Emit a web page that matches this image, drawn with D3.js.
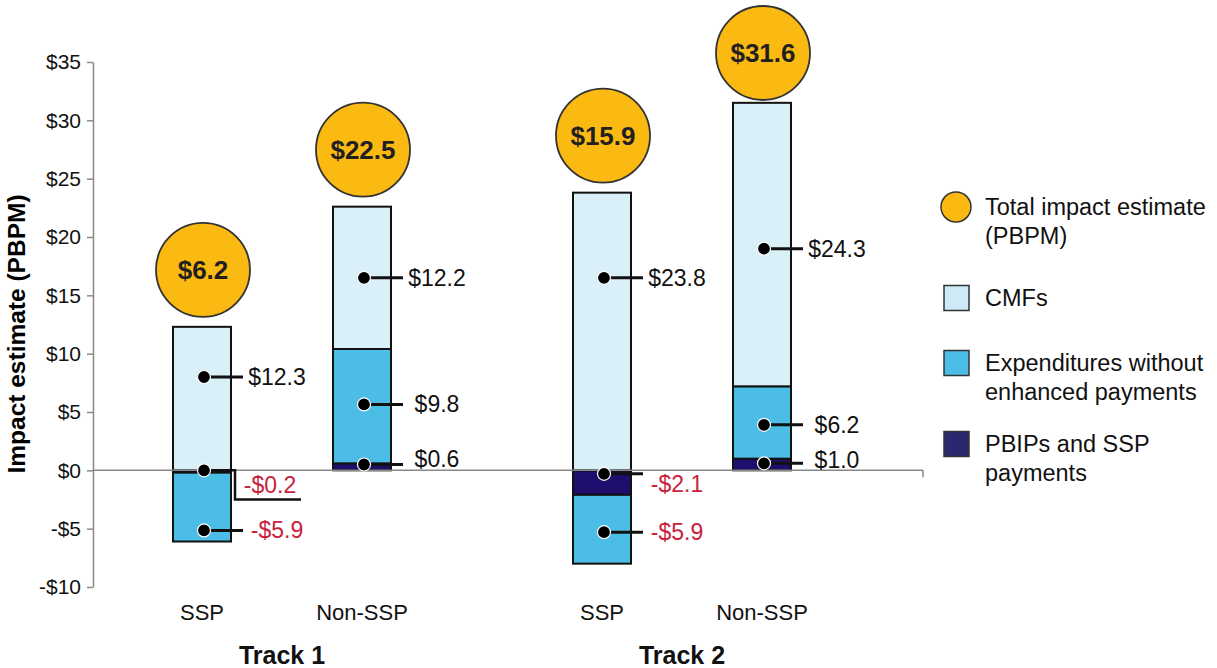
<!DOCTYPE html>
<html>
<head>
<meta charset="utf-8">
<script src="https://cdn.jsdelivr.net/npm/d3@7/dist/d3.min.js"></script>
<style>
  html, body { margin: 0; padding: 0; background: #fff; }
  svg { display: block; font-family: "Liberation Sans", Arial, sans-serif; }
</style>
</head>
<body>
<svg id="chart" width="1217" height="668"></svg>
<script>
// ---------- data ----------
const tracks = ["Track 1", "Track 2"];
const categories = ["SSP", "Non-SSP", "SSP", "Non-SSP"];
const trackOf = [0, 0, 1, 1];
const cmf = [12.3, 12.2, 23.8, 24.3];
const expend = [-5.9, 9.8, -5.9, 6.2];
const pbip = [-0.2, 0.6, -2.1, 1.0];
const totals = [6.2, 22.5, 15.9, 31.6];
// where each value label's leader is attached (data units)
const cmfAnchor = [8.0, 16.5, 16.5, 19.0];
const expendAnchor = [-5.15, 5.65, -5.3, 3.9];
const pbipAnchor = [0, 0.5, -0.3, 0.6];
const pbipTextAt = [-1.28, 0.95, -1.2, 0.85];
const yTicks = [-10, -5, 0, 5, 10, 15, 20, 25, 30, 35];
const legendItems = [
  { key: "total", lines: ["Total impact estimate", "(PBPM)"] },
  { key: "cmf", lines: ["CMFs"] },
  { key: "expend", lines: ["Expenditures without", "enhanced payments"] },
  { key: "pbip", lines: ["PBIPs and SSP", "payments"] }
];

// ---------- styles ----------
const colors = { cmf: "#daf0f8", expend: "#4bbde6", pbip: "#1f0e6e", total: "#fbba12" };
const legendColors = { cmf: "#cdebf7", expend: "#4bbde6", pbip: "#2b2870", total: "#fbba12" };
const neg = "#c8223e";
const font = "'Liberation Sans', Arial, sans-serif";

const svg = d3.select("#chart");

const rows = categories.map((c, i) => ({
  i, cat: c, track: trackOf[i],
  slot: trackOf[i] * 2.5 + (i - trackOf[i] * 2),
  pbip: pbip[i], expend: expend[i], cmf: cmf[i]
}));

const x = d3.scaleLinear().domain([0, 3.5]).range([202, 762]);
const y = d3.scaleLinear().domain([-10, 35]).range([587, 62]);
const barW = 58;

// ---------- axis ----------
const fmt = v => (v < 0 ? "-$" + (-v) : "$" + v);
const axis = svg.append("g")
  .attr("transform", "translate(93,0)")
  .call(d3.axisLeft(y).tickValues(yTicks).tickFormat(fmt).tickSize(6).tickSizeOuter(0).tickPadding(6));
axis.select(".domain").attr("stroke", "#888").attr("stroke-width", 1.5);
axis.selectAll(".tick line").attr("stroke", "#888").attr("stroke-width", 1.5);
axis.selectAll(".tick text").attr("font-size", 21).attr("font-family", font).attr("fill", "#111");

svg.append("text")
  .attr("transform", "translate(25,334) rotate(-90)")
  .attr("text-anchor", "middle")
  .attr("font-size", 24.5).attr("font-weight", "bold").attr("font-family", font)
  .text("Impact estimate (PBPM)");

// ---------- stacked bars ----------
const keys = ["pbip", "expend", "cmf"];
const stack = d3.stack().keys(keys).offset(d3.stackOffsetDiverging);
const series = stack(rows);

const gBars = svg.append("g");
series.forEach(s => {
  gBars.selectAll(null).data(s).join("rect")
    .attr("x", d => x(d.data.slot) - barW / 2)
    .attr("width", barW)
    .attr("y", d => y(Math.max(d[0], d[1])))
    .attr("height", d => Math.abs(y(d[0]) - y(d[1])))
    .attr("fill", colors[s.key])
    .attr("stroke", "#111")
    .attr("stroke-width", 2);
});

// zero baseline
const zl = svg.append("g");
zl.append("line").attr("x1", 93).attr("x2", 923).attr("y1", y(0)).attr("y2", y(0))
  .attr("stroke", "#888").attr("stroke-width", 1.5);
zl.append("line").attr("x1", 923).attr("x2", 923).attr("y1", y(0)).attr("y2", y(0) + 7)
  .attr("stroke", "#888").attr("stroke-width", 1.5);

// ---------- value labels ----------
const labels = [];
rows.forEach(r => {
  labels.push({ r, v: cmf[r.i], a: cmfAnchor[r.i], t: cmfAnchor[r.i] });
  labels.push({ r, v: expend[r.i], a: expendAnchor[r.i], t: expendAnchor[r.i] });
  labels.push({ r, v: pbip[r.i], a: pbipAnchor[r.i], t: pbipTextAt[r.i], small: Math.abs(pbip[r.i]) < 0.5 });
});
const gLab = svg.append("g");
labels.forEach(L => {
  const cx = x(L.r.slot) + 2, cy = y(L.a);
  const txt = (L.v < 0 ? "-$" : "$") + Math.abs(L.v).toFixed(1);
  if (L.small) {
    // elbow leader for very small segment
    const yy = y(L.a - 2.5);
    gLab.append("path")
      .attr("d", `M${cx},${cy}H${cx + barW / 2 + 2}V${yy}H${cx + 97}`)
      .attr("fill", "none").attr("stroke", "#111").attr("stroke-width", 2.5);
    gLab.append("text")
      .attr("x", cx + 66).attr("y", y(L.t))
      .attr("dy", "0.35em").attr("text-anchor", "middle")
      .attr("font-size", 23).attr("font-family", font)
      .attr("fill", L.v < 0 ? neg : "#111").text(txt);
  } else {
    gLab.append("line")
      .attr("x1", cx).attr("x2", cx + 39).attr("y1", cy).attr("y2", cy)
      .attr("stroke", "#111").attr("stroke-width", 3);
    gLab.append("text")
      .attr("x", cx + 73).attr("y", y(L.t))
      .attr("dy", "0.35em").attr("text-anchor", "middle")
      .attr("font-size", 23).attr("font-family", font)
      .attr("fill", L.v < 0 ? neg : "#111").text(txt);
  }
  gLab.append("circle").attr("cx", cx).attr("cy", cy).attr("r", 6.5)
    .attr("fill", "#000").attr("stroke", "#fff").attr("stroke-width", 1.2);
});

// ---------- total bubbles ----------
const R = 47;
const tops = rows.map((r, i) => d3.max(series, s => s[i][1]));
const gTot = svg.append("g");
rows.forEach((r, i) => {
  const cx = x(r.slot) + 1, cy = Math.max(y(tops[i]) - 57, R + 6);
  gTot.append("circle").attr("cx", cx).attr("cy", cy).attr("r", R)
    .attr("fill", colors.total).attr("stroke", "#333").attr("stroke-width", 1.8);
  gTot.append("text").attr("x", cx).attr("y", cy).attr("dy", "0.36em")
    .attr("text-anchor", "middle").attr("font-size", 26).attr("font-weight", "bold")
    .attr("font-family", font).attr("fill", "#231f20")
    .text("$" + totals[i].toFixed(1));
});

// ---------- category labels ----------
rows.forEach(r => {
  svg.append("text").attr("x", x(r.slot)).attr("y", 612).attr("dy", "0.35em")
    .attr("text-anchor", "middle").attr("font-size", 22).attr("font-family", font)
    .attr("fill", "#111").text(r.cat);
});
tracks.forEach((t, ti) => {
  const sl = rows.filter(r => r.track === ti).map(r => x(r.slot));
  svg.append("text").attr("x", d3.mean(sl)).attr("y", 655).attr("dy", "0.35em")
    .attr("text-anchor", "middle").attr("font-size", 25).attr("font-weight", "bold")
    .attr("font-family", font).attr("fill", "#111").text(t);
});

// ---------- legend ----------
const legTop = [207, 298, 363, 444];
const gLeg = svg.append("g");
legendItems.forEach((it, k) => {
  const cy = legTop[k];
  if (it.key === "total") {
    gLeg.append("circle").attr("cx", 956).attr("cy", cy).attr("r", 15)
      .attr("fill", legendColors.total).attr("stroke", "#333").attr("stroke-width", 1.5);
  } else {
    gLeg.append("rect").attr("x", 944).attr("y", cy - 12.5).attr("width", 25).attr("height", 25)
      .attr("fill", legendColors[it.key]).attr("stroke", "#333").attr("stroke-width", 1.5);
  }
  it.lines.forEach((ln, j) => {
    gLeg.append("text").attr("x", 985).attr("y", cy + j * 29).attr("dy", "0.35em")
      .attr("font-size", 23.5).attr("font-family", font).attr("fill", "#111").text(ln);
  });
});
</script>
</body>
</html>
